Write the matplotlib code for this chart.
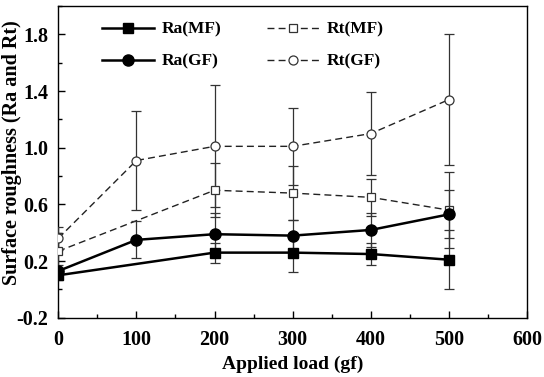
import numpy as np
import matplotlib
matplotlib.use("Agg")
import matplotlib.pyplot as plt
from matplotlib.ticker import MultipleLocator

# roughness vs applied load, MF and GF specimens
load_mf = [0, 200, 300, 400, 500]
ra_mf = [0.10, 0.26, 0.26, 0.25, 0.21]
ra_mf_err = [0.03, 0.07, 0.14, 0.08, 0.21]
rt_mf = [0.27, 0.70, 0.68, 0.65, 0.56]
rt_mf_err = [0.13, 0.19, 0.19, 0.13, 0.27]

load_gf = [0, 100, 200, 300, 400, 500]
ra_gf = [0.13, 0.35, 0.39, 0.38, 0.42, 0.53]
ra_gf_err = [0.04, 0.13, 0.15, 0.11, 0.12, 0.17]
rt_gf = [0.36, 0.91, 1.01, 1.01, 1.10, 1.34]
rt_gf_err = [0.08, 0.35, 0.43, 0.27, 0.29, 0.46]

plt.rcParams.update({
    "font.family": "serif",
    "font.serif": ["Liberation Serif", "DejaVu Serif"],
    "font.weight": "bold",
    "axes.labelweight": "bold",
    "axes.unicode_minus": False,
    "xtick.direction": "in",
    "ytick.direction": "in",
})

fig = plt.figure(figsize=(5.44, 3.77), dpi=100)
ax = fig.add_axes([0.107, 0.157, 0.862, 0.827])

eb = dict(ecolor="#333333", elinewidth=0.9, capsize=3.5, capthick=0.9)

ax.errorbar(load_mf, rt_mf, yerr=rt_mf_err, color="#222222", ls=(0, (5, 3)),
            lw=1.0, marker="s", ms=6, mfc="white", mec="#333333", mew=0.9,
            label="Rt(MF)", zorder=3, **eb)
ax.errorbar(load_gf, rt_gf, yerr=rt_gf_err, color="#222222", ls=(0, (5, 3)),
            lw=1.0, marker="o", ms=6.5, mfc="white", mec="#333333", mew=0.9,
            label="Rt(GF)", zorder=3, **eb)
ax.errorbar(load_gf, ra_gf, yerr=ra_gf_err, color="black", ls="-", lw=1.8,
            marker="o", ms=8, mfc="black", mec="black",
            label="Ra(GF)", zorder=4, **eb)
ax.errorbar(load_mf, ra_mf, yerr=ra_mf_err, color="black", ls="-", lw=1.8,
            marker="s", ms=7.5, mfc="black", mec="black",
            label="Ra(MF)", zorder=4, **eb)

ax.set_xlim(0, 600)
ax.set_ylim(-0.2, 2.0)
ax.xaxis.set_major_locator(MultipleLocator(100))
ax.xaxis.set_minor_locator(MultipleLocator(50))
ax.yaxis.set_minor_locator(MultipleLocator(0.2))
ax.set_yticks([-0.2, 0.2, 0.6, 1.0, 1.4, 1.8])
ax.tick_params(which="major", length=5, width=1, labelsize=14.5, pad=7)
ax.tick_params(axis="x", which="major", pad=9)
ax.tick_params(which="minor", length=3, width=1)
for lab in ax.get_xticklabels() + ax.get_yticklabels():
    lab.set_fontweight("bold")
for sp in ax.spines.values():
    sp.set_linewidth(1.0)

ax.set_xlabel("Applied load (gf)", fontsize=14, labelpad=4)
ax.set_ylabel("Surface roughness (Ra and Rt)", fontsize=14.5)
ax.yaxis.set_label_coords(-0.077, 0.53)

# legend shows only the line + marker, no error bars
handles, labels = ax.get_legend_handles_labels()
names = ["Ra(MF)", "Ra(GF)", "Rt(MF)", "Rt(GF)"]
lines = [handles[labels.index(n)][0] for n in names]
leg = ax.legend(lines, names, ncol=2, loc="upper left",
                bbox_to_anchor=(0.06, 1.0), frameon=False, fontsize=12.5,
                handlelength=3.0, labelspacing=0.9, columnspacing=2.6,
                handletextpad=0.45)
for t in leg.get_texts():
    t.set_fontweight("bold")

fig.savefig("out.png", dpi=100)
